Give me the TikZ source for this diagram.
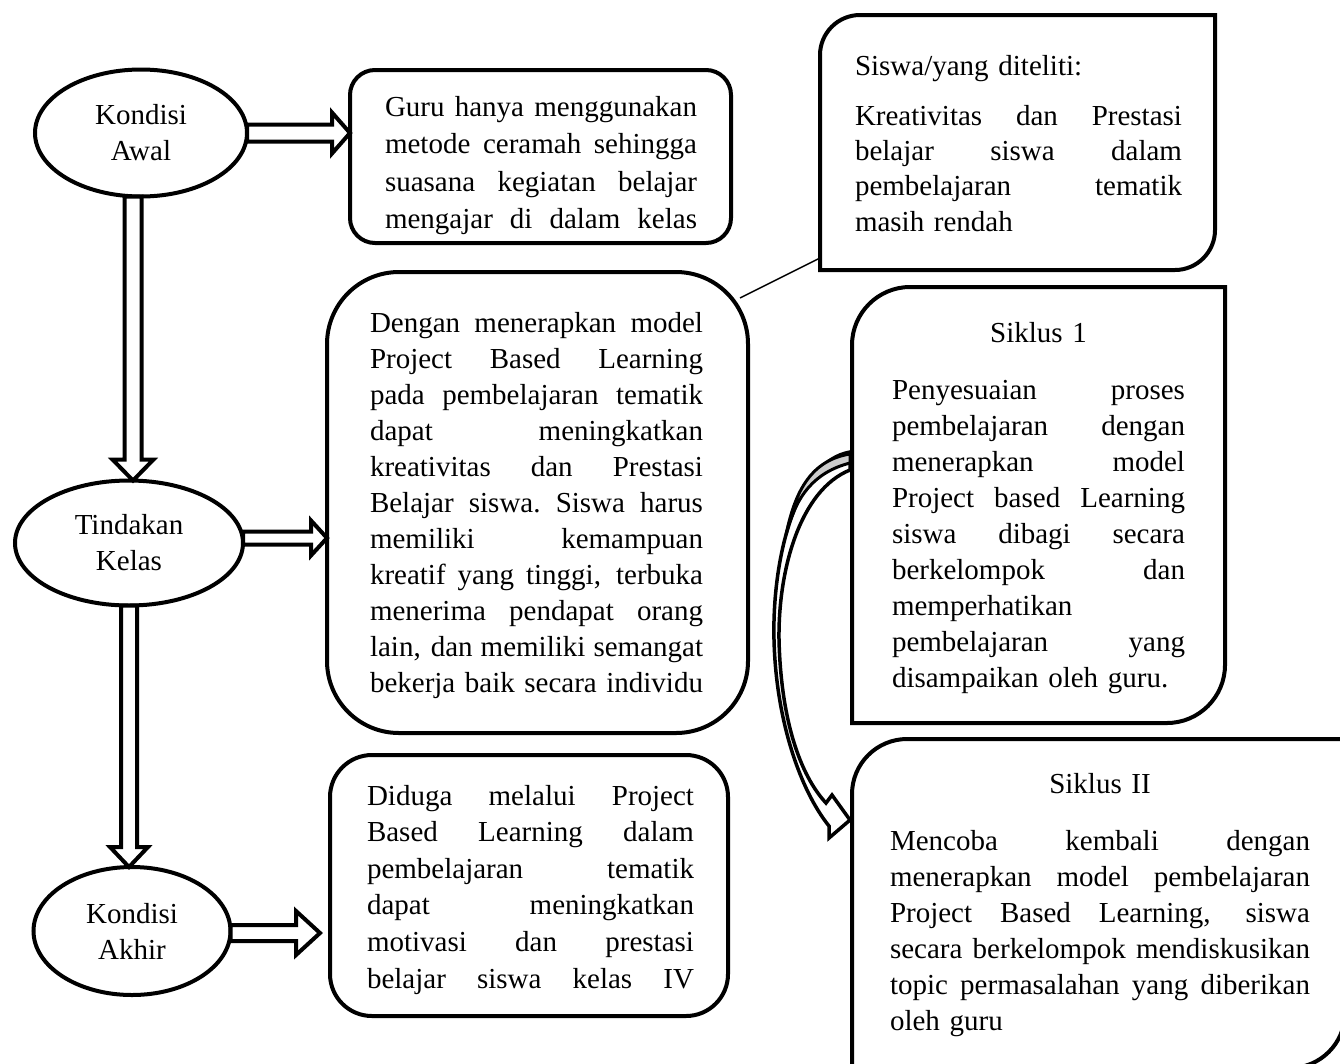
\documentclass[tikz,border=0pt]{standalone}
\usepackage{fontspec}
\setmainfont{Liberation Serif}
\usetikzlibrary{shapes.geometric,calc}

% one justified line of a box text
\newcommand{\jl}[1]{\leavevmode\hbox to \hsize{\spaceskip=0pt plus 1fil\xspaceskip=0pt plus 1fil\relax #1}}
% box with round top-left and bottom-right corners
\newcommand{\cutbox}[2]{%
  \draw[box] (#1.south west) -- ($(#1.north west)+(0,#2)$)
    .. controls ($(#1.north west)+(0,0.45*#2)$) and ($(#1.north west)+(0.45*#2,0)$) .. ($(#1.north west)+(#2,0)$)
    -- (#1.north east) -- ($(#1.south east)+(0,-#2)$)
    .. controls ($(#1.south east)+(0,-0.45*#2)$) and ($(#1.south east)+(-0.45*#2,0)$) .. ($(#1.south east)+(-#2,0)$)
    -- cycle;}
% hollow block arrows: start, end, shaft, head, head length
\newcommand{\hblock}[5]{%
  \draw[barrow] let \p1=(#1), \p2=(#2) in
    (\x1,\y1+#3pt) -- (\x2-#5pt,\y1+#3pt) -- (\x2-#5pt,\y1+#4pt) -- (\x2,\y1)
    -- (\x2-#5pt,\y1-#4pt) -- (\x2-#5pt,\y1-#3pt) -- (\x1,\y1-#3pt) -- cycle;}
\newcommand{\vblock}[5]{%
  \draw[barrow] let \p1=(#1), \p2=(#2) in
    (\x1-#3pt,\y1) -- (\x1-#3pt,\y2+#5pt) -- (\x1-#4pt,\y2+#5pt) -- (\x1,\y2)
    -- (\x1+#4pt,\y2+#5pt) -- (\x1+#3pt,\y2+#5pt) -- (\x1+#3pt,\y1) -- cycle;}

\begin{document}
\begin{tikzpicture}[x=1pt, y=-1pt,
    every node/.style={inner sep=0pt, outer sep=0pt, font=\fontsize{29}{36}\selectfont},
    box/.style={draw, line width=4pt},
    rbox/.style={box, rectangle},
    oval/.style={draw, ellipse, line width=4pt, fill=white, align=center},
    barrow/.style={draw, line width=4pt, fill=white},
    txt/.style={anchor=base west}]

    \useasboundingbox (0,0) rectangle (1340,1063);

    % left column
    \node[oval, minimum width=212pt, minimum height=127pt] (ka) at (141,133) {Kondisi\\Awal};
    \node[oval, minimum width=228pt, minimum height=125pt] (tk) at (129,543) {Tindakan\\Kelas};
    \node[oval, minimum width=197pt, minimum height=128pt] (ak) at (132,931) {Kondisi\\Akhir};

    % boxes
    \node[rbox, rounded corners=25pt, minimum width=381pt, minimum height=173pt] (guru) at (540.5,156.5) {};
    \node[rbox, rounded corners=72pt, minimum width=421pt, minimum height=461pt] (dengan) at (537.5,502.5) {};
    \node[rbox, rounded corners=42pt, minimum width=398pt, minimum height=261pt] (duga) at (529,885.5) {};
    \node[minimum width=395pt, minimum height=255pt] (siswa) at (1017.5,142.5) {};
    \node[minimum width=373pt, minimum height=436pt] (s1) at (1038.5,505) {};
    \node[minimum width=493pt, minimum height=329pt] (s2) at (1098.5,903.5) {};
    \cutbox{siswa}{40}
    \cutbox{s1}{58}
    \cutbox{s2}{55}

    \node[txt, text width=312pt, font=\fontsize{29}{37.5}\selectfont] (gurut) at (385,116)
      {\jl{Guru hanya menggunakan}\\ \jl{metode ceramah sehingga}\\ \jl{suasana kegiatan belajar}\\ \jl{mengajar di dalam kelas}};
    \node[txt, text width=333pt] (dengant) at (370,332)
      {\jl{Dengan menerapkan model}\\ \jl{Project Based Learning}\\ \jl{pada pembelajaran tematik}\\ \jl{dapat meningkatkan}\\
       \jl{kreativitas dan Prestasi}\\ \jl{Belajar siswa. Siswa harus}\\ \jl{memiliki kemampuan}\\ \jl{kreatif yang tinggi, terbuka}\\
       \jl{menerima pendapat orang}\\ \jl{lain, dan memiliki semangat}\\ \jl{bekerja baik secara individu}};
    \node[txt, text width=327pt, font=\fontsize{29}{36.6}\selectfont] (dugat) at (367,805)
      {\jl{Diduga melalui Project}\\ \jl{Based Learning dalam}\\ \jl{pembelajaran tematik}\\ \jl{dapat meningkatkan}\\
       \jl{motivasi dan prestasi}\\ \jl{belajar siswa kelas IV}};
    \node[txt, text width=327pt, font=\fontsize{29}{35.3}\selectfont] (siswat) at (855,75)
      {Siswa/yang diteliti:\\[15pt] \jl{Kreativitas dan Prestasi}\\ \jl{belajar siswa dalam}\\ \jl{pembelajaran tematik}\\ masih rendah};
    \node[txt, text width=293pt] (s1t) at (892,342)
      {\makebox[\linewidth]{Siklus 1}\\[21pt] \jl{Penyesuaian proses}\\ \jl{pembelajaran dengan}\\ \jl{menerapkan model}\\
       \jl{Project based Learning}\\ \jl{siswa dibagi secara}\\ \jl{berkelompok dan}\\ memperhatikan\\ \jl{pembelajaran yang}\\ disampaikan oleh guru.};
    \node[txt, text width=420pt] (s2t) at (890,793)
      {\makebox[\linewidth]{Siklus II}\\[21pt] \jl{Mencoba kembali dengan}\\ \jl{menerapkan model pembelajaran}\\
       \jl{Project Based Learning, siswa}\\ \jl{secara berkelompok mendiskusikan}\\ \jl{topic permasalahan yang diberikan}\\ oleh guru};

    % arrows
    \hblock{ka.east}{guru.west}{8.5}{20.5}{18}
    \hblock{$(tk.east)+(0,-5)$}{dengan.west}{6.5}{17.5}{16}
    \hblock{$(ak.east)+(0,2)$}{$(duga.west)+(-10,0)$}{8}{22}{24}
    \vblock{$(ka.south)+(-8,0)$}{tk.north}{8.5}{20.5}{21}
    \vblock{tk.south}{ak.north}{8}{19}{20}

    \coordinate (dc) at ($(dengan.north east)+(-8,26)$);
    \coordinate (sc) at ($(siswa.south west)+(0,-12)$);
    \draw[line width=1.5pt] (dc) -- (sc);

    % curved arrow Siklus 1 -> Siklus II
    \draw[line width=3.5pt, fill=white, line join=miter] (850,452) .. controls (795,462) and (772,560) .. (774,640)
      .. controls (776,720) and (800,790) .. (829,826) -- (829,838) -- (850,820) -- (832,795) -- (826,803)
      .. controls (800,775) and (781,720) .. (779,640) .. controls (778,570) and (800,490) .. (850,470) -- cycle;
    \draw[line width=3pt, fill=gray!40] (850,454) .. controls (812,460) and (795,490) .. (786,535)
      .. controls (796,495) and (815,472) .. (850,463) -- cycle;

\end{tikzpicture}
\end{document}
